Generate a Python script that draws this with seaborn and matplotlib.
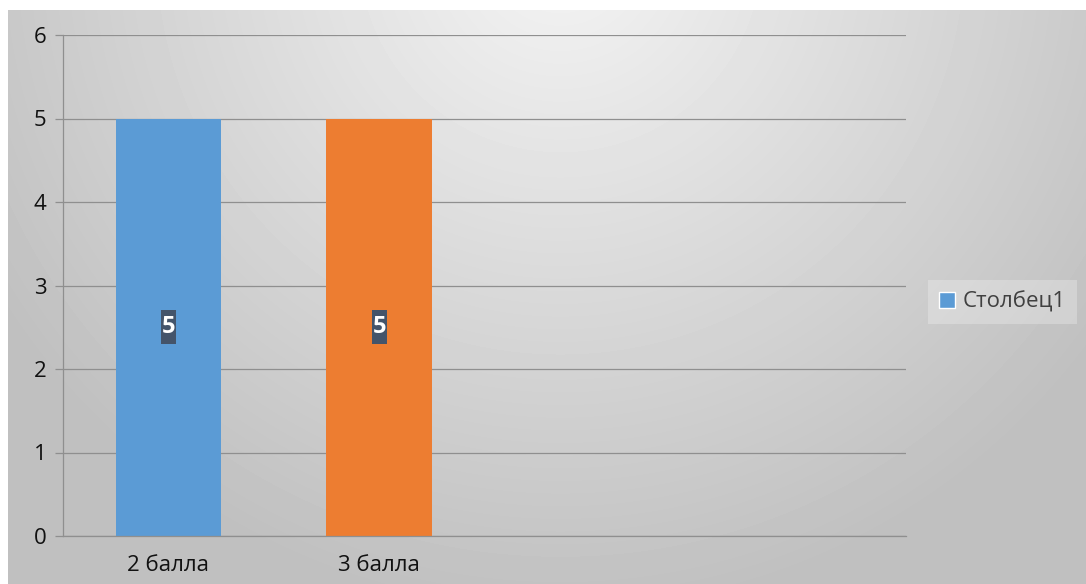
import numpy as np
import pandas as pd
import matplotlib
matplotlib.use("Agg")
import matplotlib.pyplot as plt
from matplotlib.patches import Patch
from matplotlib.path import Path
from matplotlib.ticker import FixedLocator
import seaborn as sns

# Chart data
categories = ["2 балла", "3 балла"]
values = [5, 5]
series_name = "Столбец1"
n_slots = 4                     # category slots on the x axis (two are empty)
y_ticks = [0, 1, 2, 3, 4, 5, 6]
bar_colors = ["#5B9BD5", "#ED7D31"]

sns.set_style("white")
plt.rcParams["font.family"] = ["Open Sans", "DejaVu Sans"]

FW, FH = 1086, 584
fig = plt.figure(figsize=(FW / 100, FH / 100), dpi=100)
fig.patch.set_facecolor("white")

# Radial gradient backdrop for the chart area
x0, y0 = 8, 10
bg = fig.add_axes([x0 / FW, 0, 1 - x0 / FW, 1 - y0 / FH], zorder=0)
xx, yy = np.meshgrid(np.arange(FW - x0) + x0, np.arange(FH - y0) + y0)
cx, cy, R = 560, -50, 660
t = np.clip(np.hypot(xx - cx, yy - cy) / R, 0, 1)
shade = (244 - t * 52) / 255
bg.imshow(shade, cmap="gray", vmin=0, vmax=1, aspect="auto",
          interpolation="bilinear")
bg.axis("off")

# Plot area
ax = fig.add_axes([63 / FW, 48 / FH, 843 / FW, 501 / FH], zorder=1)
ax.set_facecolor("none")

df = pd.DataFrame({"category": categories, "value": values})
sns.barplot(data=df, x="category", y="value", hue="category",
            palette=bar_colors, width=0.5, saturation=1, legend=False,
            linewidth=0, edgecolor="none", ax=ax)

axis_gray = "#8f8f8f"
ax.set_xlim(-0.5, n_slots - 0.5)
ax.set_ylim(0, 6)
ax.set_yticks(y_ticks)
ax.set_xlabel("")
ax.set_ylabel("")
ax.yaxis.grid(True, color=axis_gray, linewidth=0.9)
ax.set_axisbelow(True)
for side in ("top", "right"):
    ax.spines[side].set_visible(False)
for side in ("left", "bottom"):
    ax.spines[side].set_color(axis_gray)
    ax.spines[side].set_linewidth(0.9)

ax.xaxis.set_minor_locator(FixedLocator(np.arange(-0.5, n_slots, 1.0)))
ax.tick_params(axis="x", which="major", length=0, pad=14,
               labelsize=16, labelcolor="#111111")
ax.tick_params(axis="x", which="minor", length=7, width=0.9,
               color=axis_gray, direction="out")
ax.tick_params(axis="y", length=6, width=0.9, color=axis_gray, pad=6,
               labelsize=16, labelcolor="#111111", left=True)


def label_box(x, y, width, height, mutation_size):
    """Narrow, tall rectangle behind a data label."""
    px = 0.03 * mutation_size
    pt = 0.21 * mutation_size
    pb = 0.19 * mutation_size
    x_a, x_b = x - px, x + width + px
    y_a, y_b = y - pb, y + height + pt
    return Path([(x_a, y_a), (x_b, y_a), (x_b, y_b), (x_a, y_b), (x_a, y_a)],
                closed=True)


# Value labels in the middle of each bar
for cont in ax.containers:
    ax.bar_label(cont, label_type="center", color="white",
                 fontweight="bold", fontsize=17,
                 bbox=dict(boxstyle=label_box, fc="#44546A", ec="none"))

# Series legend
fig.legend(handles=[Patch(facecolor=bar_colors[0], label=series_name)],
           loc="center left", bbox_to_anchor=(928 / FW, 1 - 302 / FH),
           borderaxespad=0, fontsize=16, handlelength=0.7, handleheight=0.7,
           handletextpad=0.35, borderpad=0.5, labelcolor="#404040",
           frameon=True, fancybox=False, facecolor="white",
           edgecolor="none", framealpha=0.25)

fig.savefig("out.png", dpi=100)
